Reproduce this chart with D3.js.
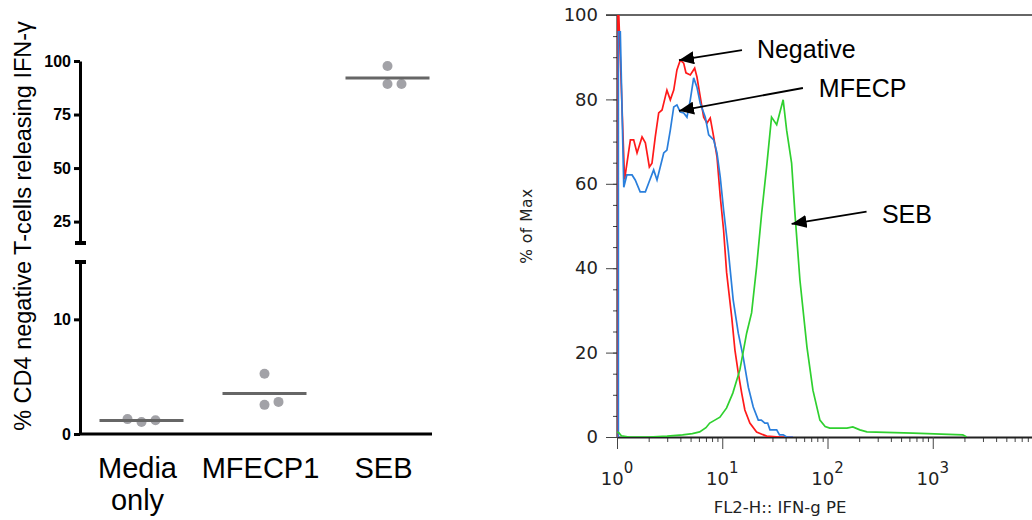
<!DOCTYPE html>
<html>
<head>
<meta charset="utf-8">
<script src="https://cdn.jsdelivr.net/npm/d3@7"></script>
<style>
body { margin: 0; background: #fff; }
svg { display: block; }
</style>
</head>
<body>
<svg id="chart" width="1032" height="520"></svg>
<script>
// left panel: % CD4 negative T-cells releasing IFN-g
var categories = ["Media only", "MFECP1", "SEB"];
var mediaValues = [1.05, 1.2, 1.3];
var mfecpValues = [5.26, 2.54, 2.8];
var sebValues = [97.7, 89.3, 89.3];
var lowerTicks = [0, 10];
var upperTicks = [25, 50, 75, 100];

// right panel: flow histogram, [FL2-H value, % of max]
var histTicksY = [0, 20, 40, 60, 80, 100];
var histDecades = [1, 10, 100, 1000, 10000];
var histDecadeLabels = [1, 10, 100, 1000];
var negativeHist = [[1.02,0],[1.02,100],[1.04,100],[1.18,61],[1.34,70.4],[1.44,70.4],[1.55,67.3],[1.73,71.1],[1.86,69.7],[2.03,64.0],[2.15,64.9],[2.31,71.1],[2.49,76.8],[2.68,77.5],[2.98,82.2],[3.21,79.9],[3.46,82.2],[3.71,87.0],[3.99,89.3],[4.3,88.6],[4.52,86.3],[4.97,85.8],[5.47,87.4],[5.75,85.3],[6.18,80.6],[6.66,75.8],[7.16,74.4],[7.69,75.6],[8.29,71.1],[8.91,66.4],[9.57,57],[10.3,49],[11.0,39],[12.3,28.4],[13.2,20.6],[14.2,15.2],[15.3,10.4],[16.4,6.4],[18.3,3.3],[21.2,1.2],[26.4,0.2],[35,0],[47,0]];
var mfecpHist = [[1.03,0],[1.03,96],[1.075,96],[1.16,59.2],[1.24,62.1],[1.39,62.1],[1.49,60.9],[1.66,58.1],[1.86,58.1],[2.0,60.2],[2.23,63.3],[2.4,60.9],[2.78,67.3],[2.98,68.0],[3.21,72.7],[3.46,78.2],[3.71,78.7],[3.99,77.0],[4.3,76.8],[4.62,75.8],[4.97,79.9],[5.35,85.1],[5.75,82.9],[6.18,79.1],[6.9,75.8],[7.43,71.6],[8.29,70.4],[8.91,67.3],[9.57,61.6],[10.3,53.8],[11.4,44.3],[12.7,32.5],[14.2,24.6],[15.8,19.0],[17.7,11.8],[19.7,7.1],[22.0,4.0],[23.5,4.0],[25.4,3.3],[27,3.3],[28.4,1.7],[32.9,1.7],[35,0.5],[38,0.5],[40.9,0],[47,0]];
var sebHist = [[1.0,1.2],[1.04,1.0],[1.1,0.3],[1.3,0],[2.0,0],[3.0,0.2],[4.2,0.5],[5.2,0.8],[6.1,1.2],[7.0,2.2],[7.6,3.3],[8.5,4.0],[9.5,4.7],[11.0,6.9],[12.6,10.4],[14.7,15.9],[17.05,24.6],[19.0,29.4],[21.2,40.3],[23.7,53.1],[26.4,64.0],[29.4,75.8],[32.9,74.0],[37.9,79.9],[40.9,72.7],[45.6,64.9],[49.0,53.1],[54.7,37.2],[63.8,21.3],[72.7,11.1],[84.7,4.0],[95,2.5],[105,2.1],[153,2.1],[174,2.4],[203,1.7],[237,1.2],[647,0.9],[1932,0.5],[2100,0]];

// arrows: label, tip [x, %], tail [x, %], text anchor [x, %]
var annotations = [
    {label: "Negative", tip: [3.88, 89.3], tail: [15.4, 91.7], text: [21.35, 89.8]},
    {label: "MFECP", tip: [3.88, 77.3], tail: [58.4, 82.7], text: [82.8, 80.6]},
    {label: "SEB", tip: [45.6, 50.5], tail: [235, 53.4], text: [328.6, 50.7]}
];

var svg = d3.select("#chart");

drawScatter();
drawHistogram();

function drawScatter()
{
    var groups = [mediaValues, mfecpValues, sebValues];

    var xScale = d3.scalePoint()
        .domain(categories)
        .range([80, 449])
        .padding(0.5);

    // broken y axis: 0-15 below, 15-100 above
    var yLow = d3.scaleLinear().domain([0, 15]).range([434, 262]);
    var yHigh = d3.scaleLinear().domain([15, 100]).range([243, 61]);
    function yPos(v) { return v <= 15 ? yLow(v) : yHigh(v); }

    var r = 5;
    var g = svg.append("g");

    groups.forEach(function(vals, i) {
        var cx = xScale(categories[i]);
        var placed = [];
        vals.forEach(function(v) {
            var y = yPos(v);
            var offsets = [0, 14, -14, 28, -28];
            for (var k = 0; k < offsets.length; k++) {
                var hit = placed.some(function(p) {
                    return p.dx == offsets[k] && Math.abs(p.y - y) < 2 * r;
                });
                if (!hit) { placed.push({dx: offsets[k], y: y}); break; }
            }
        });

        g.selectAll(null)
            .data(placed)
            .enter()
            .append("circle")
            .attr("cx", function(d) { return cx + d.dx; })
            .attr("cy", function(d) { return d.y; })
            .attr("r", r)
            .style("fill", "#a2a2a7");

        var m = d3.mean(vals);
        g.append("line")
            .attr("x1", cx - 42)
            .attr("x2", cx + 42)
            .attr("y1", yPos(m))
            .attr("y2", yPos(m))
            .style("stroke", "#666")
            .style("stroke-width", 3);
    });

    var lowAxis = svg.append("g")
        .attr("transform", "translate(80,0)")
        .call(d3.axisLeft(yLow).tickValues(lowerTicks).tickSize(6).tickSizeOuter(0).tickPadding(3));
    var highAxis = svg.append("g")
        .attr("transform", "translate(80,0)")
        .call(d3.axisLeft(yHigh).tickValues(upperTicks).tickSize(6).tickSizeOuter(0).tickPadding(3));

    [lowAxis, highAxis].forEach(function(a) {
        a.selectAll("path, line").style("stroke", "#000").style("stroke-width", 3);
        a.selectAll("text")
            .style("font-family", "'Liberation Sans', Arial, sans-serif")
            .style("font-weight", "bold")
            .style("font-size", "16px")
            .style("fill", "#000");
    });

    // break caps
    [243, 262].forEach(function(y) {
        svg.append("line")
            .attr("x1", 75).attr("x2", 86)
            .attr("y1", y).attr("y2", y)
            .style("stroke", "#000")
            .style("stroke-width", 4);
    });

    svg.append("line")
        .attr("x1", 79).attr("x2", 432)
        .attr("y1", 434).attr("y2", 434)
        .style("stroke", "#000")
        .style("stroke-width", 3);

    var labels = svg.selectAll(".cat")
        .data(categories)
        .enter()
        .append("text")
        .attr("class", "cat")
        .attr("x", function(d) { return xScale(d) - 4; })
        .attr("y", 478)
        .attr("text-anchor", "middle")
        .style("font-family", "'Liberation Sans', Arial, sans-serif")
        .style("font-size", "29px");

    labels.each(function(d) {
        var t = d3.select(this);
        d.split(" ").forEach(function(w, i) {
            t.append("tspan")
                .attr("x", t.attr("x"))
                .attr("dy", i == 0 ? 0 : 32)
                .text(w);
        });
    });

    svg.append("text")
        .attr("transform", "translate(31,226) rotate(-90)")
        .attr("text-anchor", "middle")
        .style("font-family", "'Liberation Sans', Arial, sans-serif")
        .style("font-size", "23.5px")
        .text("% CD4 negative T-cells releasing IFN-\u03b3");
}

function drawHistogram()
{
    var left = 617, top = 15, bottom = 437;
    var xScale = d3.scaleLog().domain([1, 10000]).range([left, 1038]);
    var yScale = d3.scaleLinear().domain([0, 100]).range([bottom, top]);
    var font = "'DejaVu Sans', Verdana, sans-serif";

    var minorX = [];
    histDecades.slice(0, -1).forEach(function(d) {
        for (var k = 2; k < 10; k++) minorX.push(d * k);
    });

    // top border
    svg.append("line")
        .attr("x1", 606).attr("x2", 1032)
        .attr("y1", top).attr("y2", top)
        .style("stroke", "#666")
        .style("stroke-width", 2);

    var yMinor = svg.append("g")
        .attr("transform", "translate(" + left + ",0)")
        .call(d3.axisLeft(yScale).tickValues(d3.range(0, 101, 5)).tickSize(4).tickFormat(""));
    yMinor.select(".domain").remove();

    var yMajor = svg.append("g")
        .attr("transform", "translate(" + left + ",0)")
        .call(d3.axisLeft(yScale).tickValues(histTicksY).tickSize(11).tickSizeOuter(0).tickPadding(8));
    yMajor.selectAll("text")
        .style("font-family", font)
        .style("font-size", "18px")
        .style("fill", "#222");

    var xMinor = svg.append("g")
        .attr("transform", "translate(0," + bottom + ")")
        .call(d3.axisBottom(xScale).tickValues(minorX).tickSize(5).tickFormat(""));
    xMinor.select(".domain").remove();

    var xMajor = svg.append("g")
        .attr("transform", "translate(0," + bottom + ")")
        .call(d3.axisBottom(xScale).tickValues(histDecades).tickSize(12).tickSizeOuter(0).tickFormat(""));

    [yMinor, yMajor, xMinor, xMajor].forEach(function(a) {
        a.selectAll("line").style("stroke", "#444").style("stroke-width", 1);
    });
    yMajor.select(".domain").style("stroke", "#000").style("stroke-width", 2);
    xMajor.select(".domain").style("stroke", "#222").style("stroke-width", 2);

    var decLabels = svg.selectAll(".dec")
        .data(histDecadeLabels)
        .enter()
        .append("text")
        .attr("class", "dec")
        .attr("x", function(d) { return xScale(d); })
        .attr("y", 485)
        .attr("text-anchor", "middle")
        .style("font-family", font)
        .style("font-size", "18px")
        .style("fill", "#222");
    decLabels.append("tspan").text("10");
    decLabels.append("tspan")
        .attr("dy", -12)
        .style("font-size", "15px")
        .text(function(d) { return Math.round(Math.log10(d)); });

    var clip = svg.append("clipPath").attr("id", "plotclip");
    clip.append("rect")
        .attr("x", left).attr("y", top)
        .attr("width", 1038 - left).attr("height", bottom - top);

    var line = d3.line()
        .x(function(d) { return xScale(d[0]); })
        .y(function(d) { return yScale(d[1]); });

    var series = [
        {data: negativeHist, color: "#ff1a1a"},
        {data: mfecpHist, color: "#2a7fdc"},
        {data: sebHist, color: "#2fd02f"}
    ];

    svg.append("g")
        .attr("clip-path", "url(#plotclip)")
        .selectAll("path")
        .data(series)
        .enter()
        .append("path")
        .attr("d", function(d) { return line(d.data); })
        .style("fill", "none")
        .style("stroke", function(d) { return d.color; })
        .style("stroke-width", 1.7);

    svg.append("text")
        .attr("x", 780)
        .attr("y", 513)
        .attr("text-anchor", "middle")
        .style("font-family", font)
        .style("font-size", "16.5px")
        .style("fill", "#222")
        .text("FL2-H:: IFN-g PE");

    svg.append("text")
        .attr("transform", "translate(532,226) rotate(-90)")
        .attr("text-anchor", "middle")
        .style("font-family", font)
        .style("font-size", "15.5px")
        .style("letter-spacing", "0.5px")
        .style("fill", "#222")
        .text("% of Max");

    // arrows
    svg.append("defs").append("marker")
        .attr("id", "head")
        .attr("viewBox", "0 0 15 13")
        .attr("refX", 15)
        .attr("refY", 6.5)
        .attr("markerWidth", 15)
        .attr("markerHeight", 13)
        .attr("markerUnits", "userSpaceOnUse")
        .attr("orient", "auto")
        .append("path")
        .attr("d", "M0,0L15,6.5L0,13Z")
        .style("fill", "#000");

    svg.selectAll(".arrow")
        .data(annotations)
        .enter()
        .append("line")
        .attr("class", "arrow")
        .attr("x1", function(d) { return xScale(d.tail[0]); })
        .attr("y1", function(d) { return yScale(d.tail[1]); })
        .attr("x2", function(d) { return xScale(d.tip[0]); })
        .attr("y2", function(d) { return yScale(d.tip[1]); })
        .attr("marker-end", "url(#head)")
        .style("stroke", "#000")
        .style("stroke-width", 1.8);

    svg.selectAll(".note")
        .data(annotations)
        .enter()
        .append("text")
        .attr("class", "note")
        .attr("x", function(d) { return xScale(d.text[0]); })
        .attr("y", function(d) { return yScale(d.text[1]); })
        .style("font-family", "'Liberation Sans', Arial, sans-serif")
        .style("font-size", "25px")
        .text(function(d) { return d.label; });
}
</script>
</body>
</html>
